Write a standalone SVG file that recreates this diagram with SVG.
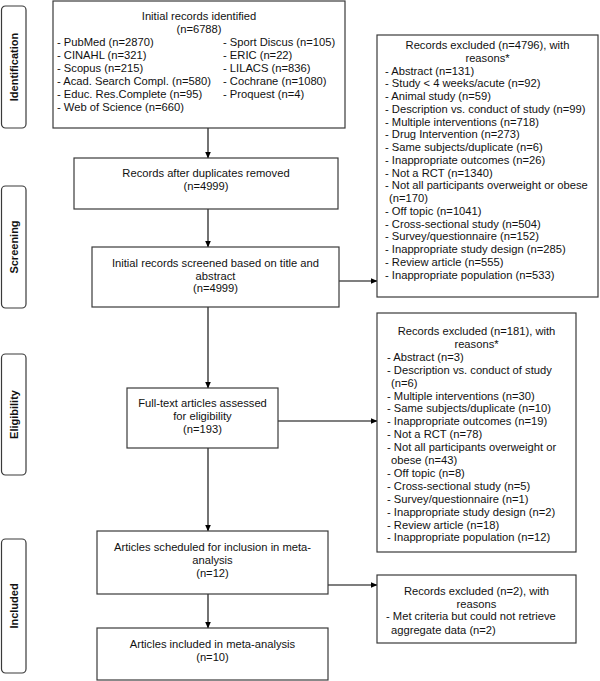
<svg xmlns="http://www.w3.org/2000/svg" width="600" height="681" viewBox="0 0 600 681">
<defs>
<marker id="ah" markerWidth="7" markerHeight="6" refX="6.5" refY="3" orient="auto" markerUnits="userSpaceOnUse">
<path d="M0,0 L7,3 L0,6 Z" fill="#000"/>
</marker>
<style>
.box{fill:#fff;stroke:#3a3a3a;stroke-width:1.2}
.side{fill:#fff;stroke:#3a3a3a;stroke-width:1.2}
.t{font-family:"Liberation Sans",Arial,sans-serif;font-size:11.2px;fill:#111}
.c{text-anchor:middle}
.lab{font-family:"Liberation Sans",Arial,sans-serif;font-size:11px;font-weight:bold;fill:#111;text-anchor:middle}
.ln{stroke:#000;stroke-width:1.1;fill:none}
</style>
</defs>
<rect width="600" height="681" fill="#fff"/>

<g id="phase-identification">
<rect class="side" x="1.5" y="6" width="24.5" height="122" rx="4"/>
<text class="lab" transform="translate(17.5,67) rotate(-90)">Identification</text>
</g>
<g id="phase-screening">
<rect class="side" x="1.5" y="186" width="24.5" height="122" rx="4"/>
<text class="lab" transform="translate(17.5,247) rotate(-90)">Screening</text>
</g>
<g id="phase-eligibility">
<rect class="side" x="1.5" y="354" width="24.5" height="121" rx="4"/>
<text class="lab" transform="translate(17.5,414.5) rotate(-90)">Eligibility</text>
</g>
<g id="phase-included">
<rect class="side" x="1.5" y="539" width="24.5" height="134" rx="4"/>
<text class="lab" transform="translate(17.5,606) rotate(-90)">Included</text>
</g>

<g id="connectors">
<line class="ln" x1="208" y1="128" x2="208" y2="158" marker-end="url(#ah)"/>
<line class="ln" x1="208" y1="209" x2="208" y2="247" marker-end="url(#ah)"/>
<line class="ln" x1="208" y1="307" x2="208" y2="388" marker-end="url(#ah)"/>
<line class="ln" x1="208" y1="448" x2="208" y2="531" marker-end="url(#ah)"/>
<line class="ln" x1="208" y1="594" x2="208" y2="628" marker-end="url(#ah)"/>
<line class="ln" x1="339" y1="281" x2="377" y2="281" marker-end="url(#ah)"/>
<line class="ln" x1="278" y1="421" x2="377" y2="421" marker-end="url(#ah)"/>
<line class="ln" x1="328" y1="585" x2="377" y2="585" marker-end="url(#ah)"/>
</g>

<g id="initial-records">
<rect class="box" x="53" y="1" width="292" height="127"/>
<text class="t c" x="199" y="20">Initial records identified</text>
<text class="t c" x="199" y="33">(n=6788)</text>
<text class="t" x="57" y="46">- PubMed (n=2870)</text>
<text class="t" x="57" y="59">- CINAHL (n=321)</text>
<text class="t" x="57" y="72">- Scopus (n=215)</text>
<text class="t" x="57" y="85">- Acad. Search Compl. (n=580)</text>
<text class="t" x="57" y="98">- Educ. Res.Complete (n=95)</text>
<text class="t" x="57" y="111">- Web of Science (n=660)</text>
<text class="t" x="223" y="46">- Sport Discus (n=105)</text>
<text class="t" x="223" y="59">- ERIC (n=22)</text>
<text class="t" x="223" y="72">- LILACS (n=836)</text>
<text class="t" x="223" y="85">- Cochrane (n=1080)</text>
<text class="t" x="223" y="98">- Proquest (n=4)</text>
</g>

<g id="duplicates-removed">
<rect class="box" x="74" y="158" width="264" height="51"/>
<text class="t c" x="206" y="177">Records after duplicates removed</text>
<text class="t c" x="206" y="190">(n=4999)</text>
</g>

<g id="screened">
<rect class="box" x="92" y="247" width="247" height="60"/>
<text class="t c" x="215.5" y="267">Initial records screened based on title and</text>
<text class="t c" x="215.5" y="279.5">abstract</text>
<text class="t c" x="215.5" y="292">(n=4999)</text>
</g>

<g id="fulltext">
<rect class="box" x="127" y="388" width="151" height="60"/>
<text class="t c" x="202.5" y="407">Full-text articles assessed</text>
<text class="t c" x="202.5" y="420">for eligibility</text>
<text class="t c" x="202.5" y="433">(n=193)</text>
</g>

<g id="scheduled">
<rect class="box" x="97" y="531" width="231" height="63"/>
<text class="t c" x="212.5" y="551">Articles scheduled for inclusion in meta-</text>
<text class="t c" x="212.5" y="564">analysis</text>
<text class="t c" x="212.5" y="577">(n=12)</text>
</g>

<g id="included">
<rect class="box" x="97" y="628" width="231" height="52"/>
<text class="t c" x="212.5" y="648">Articles included in meta-analysis</text>
<text class="t c" x="212.5" y="661">(n=10)</text>
</g>

<g id="excluded-screening">
<rect class="box" x="377" y="35" width="221" height="262"/>
<text class="t c" x="487.5" y="49">Records excluded (n=4796), with</text>
<text class="t c" x="487.5" y="62">reasons*</text>
<text class="t" x="385" y="74.5">- Abstract (n=131)</text>
<text class="t" x="385" y="87.25">- Study &lt; 4 weeks/acute (n=92)</text>
<text class="t" x="385" y="100">- Animal study (n=59)</text>
<text class="t" x="385" y="112.75">- Description vs. conduct of study (n=99)</text>
<text class="t" x="385" y="125.5">- Multiple interventions (n=718)</text>
<text class="t" x="385" y="138.25">- Drug Intervention (n=273)</text>
<text class="t" x="385" y="151">- Same subjects/duplicate (n=6)</text>
<text class="t" x="385" y="163.75">- Inappropriate outcomes (n=26)</text>
<text class="t" x="385" y="176.5">- Not a RCT (n=1340)</text>
<text class="t" x="385" y="189.25">- Not all participants overweight or obese</text>
<text class="t" x="389" y="202">(n=170)</text>
<text class="t" x="385" y="214.75">- Off topic (n=1041)</text>
<text class="t" x="385" y="227.5">- Cross-sectional study (n=504)</text>
<text class="t" x="385" y="240.25">- Survey/questionnaire (n=152)</text>
<text class="t" x="385" y="253">- Inappropriate study design (n=285)</text>
<text class="t" x="385" y="265.75">- Review article (n=555)</text>
<text class="t" x="385" y="278.5">- Inappropriate population (n=533)</text>
</g>

<g id="excluded-eligibility">
<rect class="box" x="377" y="313" width="199" height="239"/>
<text class="t c" x="476.5" y="335">Records excluded (n=181), with</text>
<text class="t c" x="476.5" y="348">reasons*</text>
<text class="t" x="387" y="360.8">- Abstract (n=3)</text>
<text class="t" x="387" y="373.7">- Description vs. conduct of study</text>
<text class="t" x="391" y="386.6">(n=6)</text>
<text class="t" x="387" y="399.5">- Multiple interventions (n=30)</text>
<text class="t" x="387" y="412.4">- Same subjects/duplicate (n=10)</text>
<text class="t" x="387" y="425.3">- Inappropriate outcomes (n=19)</text>
<text class="t" x="387" y="438.2">- Not a RCT (n=78)</text>
<text class="t" x="387" y="451.1">- Not all participants overweight or</text>
<text class="t" x="391" y="464">obese (n=43)</text>
<text class="t" x="387" y="476.9">- Off topic (n=8)</text>
<text class="t" x="387" y="489.8">- Cross-sectional study (n=5)</text>
<text class="t" x="387" y="502.7">- Survey/questionnaire (n=1)</text>
<text class="t" x="387" y="515.6">- Inappropriate study design (n=2)</text>
<text class="t" x="387" y="528.5">- Review article (n=18)</text>
<text class="t" x="387" y="541.4">- Inappropriate population (n=12)</text>
</g>

<g id="excluded-inclusion">
<rect class="box" x="377" y="575" width="199" height="68"/>
<text class="t c" x="476.5" y="595">Records excluded (n=2), with</text>
<text class="t c" x="476.5" y="607.5">reasons</text>
<text class="t" x="386" y="620">- Met criteria but could not retrieve</text>
<text class="t" x="391" y="633.5">aggregate data (n=2)</text>
</g>
</svg>
